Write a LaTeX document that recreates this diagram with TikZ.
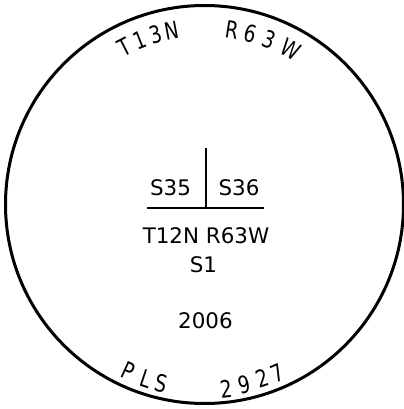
\documentclass[tikz,border=0pt]{standalone}
\usepackage{fontspec}
\setmainfont{DejaVu Sans}
\newfontfamily\rimfont[FakeStretch=0.78]{DejaVu Sans}
\usetikzlibrary{positioning}

\begin{document}
\begin{tikzpicture}[x=1bp, y=1bp,
  rim/.style={draw=black, line width=3bp},
  tie/.style={draw=black, line width=2.2bp},
  label/.style={font=\fontsize{21.5}{24}\selectfont, anchor=base, inner sep=0pt},
  arcchar/.style={font=\rimfont\fontsize{24}{26}\selectfont, inner sep=0pt},
]
  \useasboundingbox (0,0) rectangle (404,409);

  % Monument cap
  \coordinate (c) at (204.5,204.5);
  \draw[rim] (c) circle (199);

  % Township / range along the rim
  \foreach \ch/\ang [count=\i] in {T/117, 1/111.5, 3/106, N/100.5, R/81, 6/75, 3/68.5, W/61}
    \node[arcchar, rotate=\ang-90] (top\i) at ([shift={(\ang:177)}]c) {\ch};
  \foreach \ch/\ang/\rad [count=\i] in {P/-114.7/183, L/-108.5/184, S/-103.5/184,
                                        2/-83.4/186, 9/-77.4/185, 2/-71.7/183, 7/-66.6/184}
    \node[arcchar, rotate=\ang+90] (bot\i) at ([shift={(\ang:\rad)}]c) {\ch};

  % Section corner
  \coordinate (vtop) at (205.7,261);
  \coordinate (cross) at (205.7,200.7);
  \coordinate (hl) at (147,200.7);
  \coordinate (hr) at (264,200.7);
  \draw[tie] (vtop) -- (cross);
  \draw[tie] (hl) -- (hr);

  \node[label] (s35) at (170.5,214) {S35};
  \node[label] (s36) at (239,214) {S36};
  \node[label] (twp) at (206,166) {T12N R63W};
  \node[label] (s1) at (203.5,137) {S1};
  \node[label] (yr) at (205.5,81) {2006};
\end{tikzpicture}
\end{document}
